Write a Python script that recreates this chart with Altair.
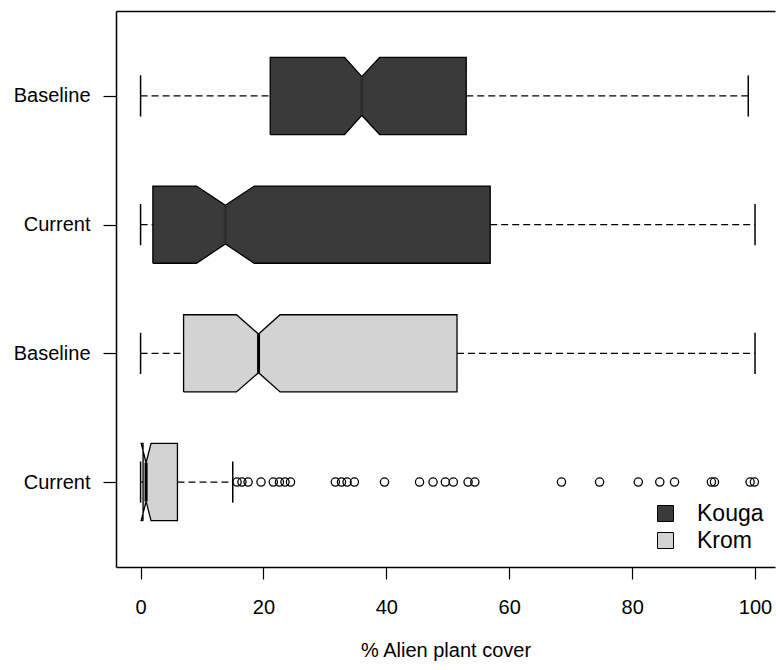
import altair as alt
import pandas as pd

# ---- data ----
period = ["Baseline", "Current", "Baseline", "Current"]
catchment = ["Kouga", "Kouga", "Krom", "Krom"]
row_pos = [4, 3, 2, 1]
whisker_lo = [0.0, 0.0, 0.0, 0.0]
q1 = [21.1, 2.0, 7.0, 0.4]
notch_lo = [33.2, 9.1, 15.6, 0.1]
median = [36.0, 13.8, 19.2, 0.9]
notch_hi = [38.9, 18.5, 22.7, 1.7]
q3 = [53.0, 56.9, 51.5, 6.0]
whisker_hi = [98.9, 100.0, 100.0, 15.0]
krom_current_outliers = [15.7, 16.5, 17.5, 19.6, 21.6, 22.6, 23.5, 24.4,
                         31.7, 32.7, 33.6, 34.8, 39.7, 45.4, 47.6, 49.6,
                         50.9, 53.3, 54.4, 68.5, 74.7, 81.0, 84.5, 86.9,
                         92.9, 93.4, 99.2, 99.9]
x_ticks = [0, 20, 40, 60, 80, 100]
catchment_names = ["Kouga", "Krom"]
fill_colors = ["#3a3a3a", "#d3d3d3"]
median_colors = ["#2e2e2e", "black"]

# ---- style constants ----
H = 0.30   # half box height (row units)
W = 0.15   # half waist height at the notch
S = 0.16   # half staple height
FONT = "Liberation Sans"

# ---- tables built from the arrays ----
poly_rows = []
whisk_rows = []
cap_rows = []
med_rows = []
for i in range(len(period)):
    k = row_pos[i]
    g = catchment[i] + " " + period[i]
    pts = [(q1[i], k - H), (notch_lo[i], k - H), (median[i], k - W),
           (notch_hi[i], k - H), (q3[i], k - H), (q3[i], k + H),
           (notch_hi[i], k + H), (median[i], k + W), (notch_lo[i], k + H),
           (q1[i], k + H), (q1[i], k - H)]
    for j, (px, py) in enumerate(pts):
        poly_rows.append({"group": g, "catchment": catchment[i], "order": j, "x": px, "y": py})
    whisk_rows.append({"x": whisker_lo[i], "x2": q1[i], "y": k})
    whisk_rows.append({"x": q3[i], "x2": whisker_hi[i], "y": k})
    cap_rows.append({"x": whisker_lo[i], "y": k - S, "y2": k + S})
    cap_rows.append({"x": whisker_hi[i], "y": k - S, "y2": k + S})
    med_rows.append({"x": median[i], "y": k - W, "y2": k + W, "catchment": catchment[i]})

poly_df = pd.DataFrame(poly_rows)
whisk_df = pd.DataFrame(whisk_rows)
cap_df = pd.DataFrame(cap_rows)
med_df = pd.DataFrame(med_rows)
out_df = pd.DataFrame({"x": krom_current_outliers, "y": [row_pos[3]] * len(krom_current_outliers)})

label_by_pos = {row_pos[i]: period[i] for i in range(len(period))}
label_js = "[" + ",".join("'" + label_by_pos.get(p, "") + "'" for p in range(0, 5)) + "]"

xs = alt.Scale(domain=[-4, 103.25], nice=False, zero=False)
ys = alt.Scale(domain=[0.34, 4.66], nice=False, zero=False)

x_bottom = alt.Axis(orient="bottom", values=x_ticks, tickSize=12, labelPadding=18,
                    title="% Alien plant cover", titlePadding=23, grid=False,
                    labelFontSize=20, titleFontSize=20, titleFontWeight="normal")
x_top = alt.Axis(orient="top", labels=False, ticks=False, title=None, grid=False, domain=True)
y_axis = alt.Axis(values=sorted(row_pos), labelExpr=label_js + "[datum.value]",
                  tickSize=13, labelPadding=13, title=None, grid=False,
                  labelFontSize=20)

whiskers = alt.Chart(whisk_df).mark_rule(color="black", strokeWidth=1.3, strokeDash=[7, 4]).encode(
    x=alt.X("x:Q", scale=xs, axis=x_bottom),
    x2="x2:Q",
    y=alt.Y("y:Q", scale=ys, axis=y_axis),
)

caps = alt.Chart(cap_df).mark_rule(color="black", strokeWidth=1.5).encode(
    x=alt.X("x:Q", scale=xs, axis=x_top),
    y=alt.Y("y:Q", scale=ys, axis=y_axis),
    y2="y2:Q",
)

boxes = alt.Chart(poly_df).mark_line(stroke="black", strokeWidth=1.3, interpolate="linear").encode(
    x=alt.X("x:Q", scale=xs, axis=None),
    y=alt.Y("y:Q", scale=ys, axis=y_axis),
    order="order:Q",
    detail="group:N",
    fill=alt.Fill("catchment:N",
                  scale=alt.Scale(domain=catchment_names, range=fill_colors),
                  legend=alt.Legend(title=None, orient="none", legendX=538, legendY=491,
                                    symbolType="square", symbolSize=256,
                                    symbolStrokeColor="black", symbolStrokeWidth=1,
                                    symbolOpacity=1, labelFontSize=23, labelFont=FONT,
                                    labelColor="black", labelOffset=20, rowPadding=3)),
)

medians = alt.Chart(med_df).mark_rule(strokeWidth=3).encode(
    x=alt.X("x:Q", scale=xs, axis=None),
    y=alt.Y("y:Q", scale=ys, axis=y_axis),
    y2="y2:Q",
    color=alt.Color("catchment:N", scale=alt.Scale(domain=catchment_names, range=median_colors),
                    legend=None),
)

outliers = alt.Chart(out_df).mark_point(shape="circle", filled=False, size=68,
                                        color="black", strokeWidth=1.3, opacity=1).encode(
    x=alt.X("x:Q", scale=xs, axis=None),
    y=alt.Y("y:Q", scale=ys, axis=y_axis),
)

chart = alt.layer(whiskers, caps, boxes, medians, outliers).resolve_axis(
    x="independent"
).resolve_scale(color="independent").properties(
    width=659, height=556,
    padding={"left": 116, "top": 11, "right": 1, "bottom": 100},
    autosize=alt.AutoSizeParams(type="none"),
    background="white",
).configure_view(strokeWidth=0).configure_axis(
    domainColor="black", domainWidth=1.5, tickColor="black", tickWidth=1.2,
    labelColor="black", titleColor="black", labelFont=FONT, titleFont=FONT,
).configure_legend(labelFont=FONT)

chart.save("out.html", embed_options={"renderer": "svg", "actions": False})
